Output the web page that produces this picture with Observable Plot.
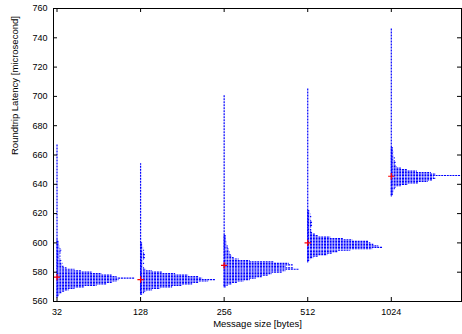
<!DOCTYPE html>
<html><head><meta charset="utf-8">
<script src="https://cdn.jsdelivr.net/npm/d3@7"></script>
<script src="https://cdn.jsdelivr.net/npm/@observablehq/plot@0.6"></script>
<style>body{margin:0;background:#fff}</style>
</head><body><div id="chart"></div>
<script>
// ---- data ----
const sizes = ["32", "128", "256", "512", "1024"];
const yTicks = [560, 580, 600, 620, 640, 660, 680, 700, 720, 740, 760];
const minLatency = [563, 565, 570, 587, 632];
const maxLatency = [667, 654, 701, 705, 746];
const medianLatency = [576.6, 575, 584.6, 600, 645.5];
const binStart = [563, 565, 570, 587, 632]; // first 1-µs bin of each histogram
// relative frequency of each 1-µs latency bin (from binStart upward)
const counts32 = [1, 2, 3, 5, 8, 12, 18, 28, 40, 50, 56, 60, 62, 78, 60, 55, 45, 35, 25, 18, 10, 7, 5, 6, 4, 5, 4, 3, 4, 3, 4, 4, 5, 4, 3, 3, 2, 2, 2, 1];
const counts128 = [2, 4, 6, 12, 20, 32, 42, 52, 58, 68, 75, 62, 58, 48, 35, 22, 12, 6, 4, 3, 3, 4, 3, 3, 4, 5, 4, 5, 4, 3, 4, 3, 3, 2, 2, 2];
const counts256 = [2, 4, 8, 14, 20, 26, 32, 38, 44, 48, 58, 62, 75, 70, 62, 69, 65, 50, 26, 15, 10, 8, 7, 6, 6, 5, 5, 4, 4, 3, 3, 3, 2, 2, 2, 2];
const counts512 = [1, 2, 3, 6, 11, 20, 25, 30, 43, 65, 75, 71, 66, 63, 61, 45, 36, 23, 11, 8, 5, 4, 4, 3, 4, 5, 4, 5, 4, 3, 3, 4, 3, 3, 2, 2];
const counts1024 = [1, 2, 2, 3, 3, 4, 5, 10, 17, 27, 37, 42, 45, 43, 70, 45, 40, 26, 16, 10, 6, 5, 4, 5, 4, 3, 4, 3, 3, 2, 3, 2, 2, 2];
const countsBySize = [counts32, counts128, counts256, counts512, counts1024];

// ---- layout ----
const W = 462, H = 334, mL = 53, mR = 1, mT = 8, mB = 33;
const plotW = W - mL - mR, plotH = H - mT - mB;
const xDomain = [-0.042, 4.84];
const countScale = 1 / 83.5; // slot fraction per frequency unit
const blue = "#0000ff";
const font = "'Liberation Sans', Arial, Helvetica, sans-serif";

const rows = countsBySize.flatMap((cs, i) =>
  cs.map((c, k) => ({ y: binStart[i] + k, x1: i, x2: i + c * countScale })));
const cols = sizes.map((s, i) => ({ i, lo: minLatency[i], hi: maxLatency[i] }));
const meds = sizes.map((s, i) => ({ i, v: medianLatency[i] }));
const xIdx = sizes.map((s, i) => i);

const chart = Plot.plot({
  width: W, height: H,
  marginLeft: mL, marginRight: mR, marginTop: mT, marginBottom: mB,
  style: { fontFamily: font, fontSize: "9px", background: "#fff", color: "#000" },
  x: { domain: xDomain, axis: null },
  y: { domain: [560, 760], axis: null },
  marks: [
    Plot.ruleX(cols, { x: "i", y1: "lo", y2: "hi", stroke: blue, strokeWidth: 1.2, strokeDasharray: "2,1" }),
    Plot.ruleY(rows, { y: "y", x1: "x1", x2: "x2", stroke: blue, strokeWidth: 1.2, strokeDasharray: "2,0.8" }),
    Plot.dot(meds, { x: "i", y: "v", symbol: "plus", r: 2.2, stroke: "#ff0000", strokeWidth: 1.2 }),
    Plot.frame({ stroke: "#000", strokeWidth: 1 }),
    Plot.tickY(yTicks, { y: d => d, insetRight: plotW - 4, stroke: "#000" }),
    Plot.tickY(yTicks, { y: d => d, insetLeft: plotW - 4, stroke: "#000" }),
    Plot.tickX(xIdx, { x: d => d, insetTop: plotH - 4, stroke: "#000" }),
    Plot.tickX(xIdx, { x: d => d, insetBottom: plotH - 4, stroke: "#000" }),
    Plot.text(yTicks, { x: xDomain[0], y: d => d, text: d => String(d), textAnchor: "end", dx: -6, fill: "#000" }),
    Plot.text(xIdx, { x: d => d, y: 560, text: d => sizes[d], dy: 11, fill: "#000" }),
    Plot.text(["Message size [bytes]"], { frameAnchor: "bottom", dy: 25.5, text: d => d, fill: "#000", fontSize: 9.5 }),
    Plot.text(["Roundtrip Latency [microsecond]"], { frameAnchor: "left", dx: -39, rotate: -90, text: d => d, fill: "#000", fontSize: 9.5 })
  ]
});
document.getElementById("chart").appendChild(chart);
</script>
</body></html>
